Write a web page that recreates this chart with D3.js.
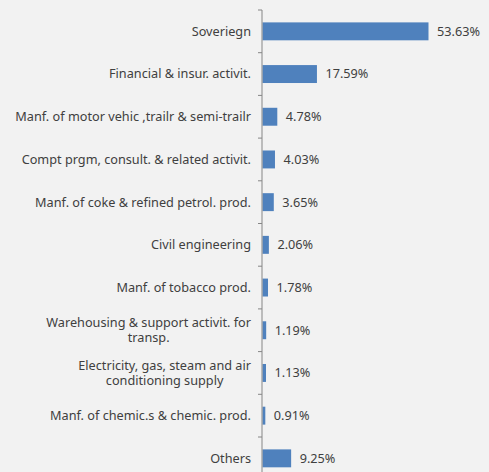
<!DOCTYPE html>
<html>
<head>
<meta charset="utf-8">
<script src="https://cdn.jsdelivr.net/npm/d3@7"></script>
<style>
  html, body { margin: 0; padding: 0; background: #f2f2f2; }
  svg { display: block; }
</style>
</head>
<body>
<svg id="chart" width="489" height="472"></svg>
<script>
// Sector breakdown, one entry per bar (top to bottom)
const categories = [
  ["Soveriegn"],
  ["Financial & insur. activit."],
  ["Manf. of motor vehic ,trailr & semi-trailr"],
  ["Compt prgm, consult. & related activit."],
  ["Manf. of coke & refined petrol. prod."],
  ["Civil engineering"],
  ["Manf. of tobacco prod."],
  ["Warehousing & support activit. for", "transp."],
  ["Electricity, gas, steam and air", "conditioning supply"],
  ["Manf. of chemic.s & chemic. prod."],
  ["Others"]
];
const values = [53.63, 17.59, 4.78, 4.03, 3.65, 2.06, 1.78, 1.19, 1.13, 0.91, 9.25];
const valueLabels = ["53.63%", "17.59%", "4.78%", "4.03%", "3.65%", "2.06%", "1.78%", "1.19%", "1.13%", "0.91%", "9.25%"];

const svg = d3.select("#chart");
const axisX = 262, plotTop = 10, bandH = 42.7, labelRight = 251;
const ids = d3.range(categories.length);

const x = d3.scaleLinear().domain([0, 53.63]).range([axisX, 428]);
const y = d3.scaleBand().domain(ids).range([plotTop, plotTop + bandH * ids.length]).paddingInner(0.58).paddingOuter(0.29);

const font = "'Noto Sans', sans-serif";
const fontSize = 12.7;
const textColor = "#404040";

// bars
svg.append("g").selectAll("rect").data(ids).join("rect")
  .attr("x", x(0) + 0.5)
  .attr("y", i => y(i))
  .attr("width", i => x(values[i]) - x(0))
  .attr("height", y.bandwidth())
  .attr("fill", "#4f81bd");

// value labels
svg.append("g").selectAll("text").data(ids).join("text")
  .attr("x", i => x(values[i]) + 9)
  .attr("y", i => y(i) + y.bandwidth() / 2)
  .attr("dy", "0.35em")
  .attr("font-family", font)
  .attr("font-size", fontSize)
  .attr("fill", textColor)
  .text(i => valueLabels[i]);

// category axis: vertical line with ticks at band boundaries
const axis = svg.append("g");
axis.append("line")
  .attr("x1", axisX).attr("x2", axisX)
  .attr("y1", plotTop).attr("y2", plotTop + bandH * ids.length)
  .attr("stroke", "#868686").attr("stroke-width", 1);
axis.selectAll("line.tick").data(d3.range(ids.length + 1)).join("line")
  .attr("class", "tick")
  .attr("x1", axisX - 4).attr("x2", axisX)
  .attr("y1", k => plotTop + k * bandH).attr("y2", k => plotTop + k * bandH)
  .attr("stroke", "#868686").attr("stroke-width", 1);

// category labels: right-aligned; wrapped lines are centred under the first line
const lineH = 14.5;
const labels = svg.append("g");
ids.forEach(i => {
  const lines = categories[i];
  const cy = y(i) + y.bandwidth() / 2;
  const y0 = cy - (lines.length - 1) * lineH / 2;
  const first = labels.append("text")
    .attr("x", labelRight)
    .attr("y", y0)
    .attr("dy", "0.35em")
    .attr("text-anchor", "end")
    .attr("font-family", font)
    .attr("font-size", fontSize)
    .attr("fill", textColor)
    .text(lines[0]);
  const mid = labelRight - first.node().getComputedTextLength() / 2;
  lines.slice(1).forEach((s, j) => {
    labels.append("text")
      .attr("x", mid)
      .attr("y", y0 + (j + 1) * lineH)
      .attr("dy", "0.35em")
      .attr("text-anchor", "middle")
      .attr("font-family", font)
      .attr("font-size", fontSize)
      .attr("fill", textColor)
      .text(s);
  });
});
</script>
</body>
</html>
